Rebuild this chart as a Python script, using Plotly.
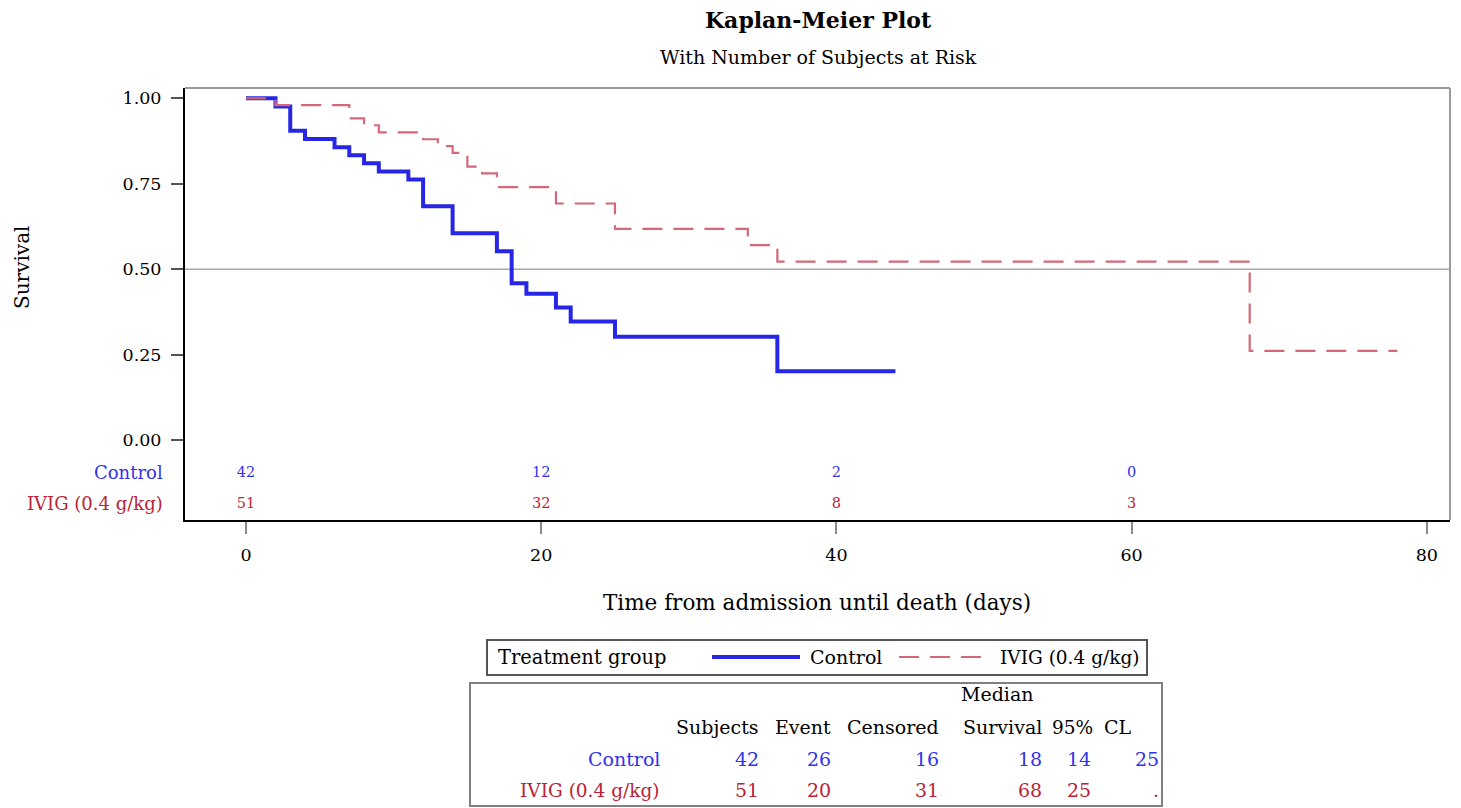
import plotly.graph_objects as go

# ---------------- data ----------------
time_control = [0, 2, 3, 4, 6, 7, 8, 9, 11, 12, 14, 17, 18, 19, 21, 22, 25, 36, 44]
surv_control = [1.0, 0.976, 0.905, 0.881, 0.857, 0.833, 0.810, 0.786, 0.762, 0.684,
                0.605, 0.552, 0.459, 0.428, 0.388, 0.347, 0.302, 0.201, 0.201]
time_ivig = [0, 2, 7, 8, 9, 12, 13, 14, 15, 16, 17, 21, 25, 34, 36, 68, 78]
surv_ivig = [1.0, 0.980, 0.941, 0.921, 0.900, 0.880, 0.860, 0.840, 0.800, 0.780,
             0.740, 0.692, 0.618, 0.570, 0.522, 0.261, 0.261]

risk_times = [0, 20, 40, 60]
risk_control = [42, 12, 2, 0]
risk_ivig = [51, 32, 8, 3]

groups = ["Control", "IVIG (0.4 g/kg)"]
table_headers = ["Subjects", "Event", "Censored", "Survival", "95%", "CL"]
table_control = ["42", "26", "16", "18", "14", "25"]
table_ivig = ["51", "20", "31", "68", "25", "."]

x_ticks = [0, 20, 40, 60, 80]
y_ticks = [0.0, 0.25, 0.50, 0.75, 1.00]
y_tick_text = ["0.00", "0.25", "0.50", "0.75", "1.00"]

# ---------------- style ----------------
FONT = "DejaVu Serif"
BLUE_LINE = "rgb(38,38,228)"
RED_LINE = "rgb(212,104,120)"
BLUE_TXT = "rgb(50,50,235)"
RED_TXT = "rgb(185,35,55)"
DASH = "20px,11px"

W, H = 1461, 808
L, R, T, B = 185, 11, 88, 288
PW, PH = W - L - R, H - T - B


def px(x):
    return (x - L) / PW


def py(y):
    return (H - B - y) / PH


fig = go.Figure()

fig.add_trace(go.Scatter(x=time_control, y=surv_control, mode="lines",
                         line=dict(shape="hv", color=BLUE_LINE, width=4),
                         name=groups[0], showlegend=False))
fig.add_trace(go.Scatter(x=time_ivig, y=surv_ivig, mode="lines",
                         line=dict(shape="hv", color=RED_LINE, width=2.2, dash=DASH),
                         name=groups[1], showlegend=False))

# at-risk rows
ROW_C, ROW_I = -0.097, -0.188
fig.add_trace(go.Scatter(x=risk_times, y=[ROW_C] * len(risk_times), mode="text",
                         text=[str(v) for v in risk_control],
                         textfont=dict(family=FONT, size=14.5, color=BLUE_TXT),
                         showlegend=False, cliponaxis=False, hoverinfo="skip"))
fig.add_trace(go.Scatter(x=risk_times, y=[ROW_I] * len(risk_times), mode="text",
                         text=[str(v) for v in risk_ivig],
                         textfont=dict(family=FONT, size=14.5, color=RED_TXT),
                         showlegend=False, cliponaxis=False, hoverinfo="skip"))

ann = []


def text(x, y, s, size=20, color="black", anchor="center", bold=False, angle=0):
    ann.append(dict(xref="paper", yref="paper", x=px(x), y=py(y), text=("<b>%s</b>" % s) if bold else s,
                    showarrow=False, xanchor=anchor, yanchor="middle", textangle=angle,
                    font=dict(family=FONT, size=size, color=color), borderpad=0))


# titles
text(818, 20, "Kaplan-Meier Plot", size=22, bold=True)
text(818, 57, "With Number of Subjects at Risk", size=19)
text(817, 602, "Time from admission until death (days)", size=21.5)
text(22, 268, "Survival", size=20, angle=-90)

# at-risk labels
text(164, 472, groups[0], size=18, color=BLUE_TXT, anchor="right")
text(164, 503, groups[1], size=18, color=RED_TXT, anchor="right")

shapes = []
# reference line at 0.5
shapes.append(dict(type="line", xref="paper", yref="y", x0=0, x1=1, y0=0.5, y1=0.5,
                   line=dict(color="#a8a8a8", width=1.5), layer="below"))
# top & right frame
shapes.append(dict(type="line", xref="paper", yref="paper", x0=0, x1=1, y0=1, y1=1,
                   line=dict(color="#9a9a9a", width=2)))
shapes.append(dict(type="line", xref="paper", yref="paper", x0=1, x1=1, y0=0, y1=1,
                   line=dict(color="#9a9a9a", width=2)))

# legend box
shapes.append(dict(type="rect", xref="paper", yref="paper", x0=px(487), x1=px(1147), y0=py(640), y1=py(675),
                   line=dict(color="#555555", width=2)))
text(497, 657, "Treatment group", size=19.5, anchor="left")
shapes.append(dict(type="line", xref="paper", yref="paper", x0=px(712), x1=px(800), y0=py(657), y1=py(657),
                   line=dict(color=BLUE_LINE, width=4)))
text(809, 657, groups[0], size=19, anchor="left")
shapes.append(dict(type="line", xref="paper", yref="paper", x0=px(899), x1=px(990), y0=py(657), y1=py(657),
                   line=dict(color=RED_LINE, width=2.2, dash=DASH)))
text(1141, 657, groups[1], size=18.5, anchor="right")

# stats table
shapes.append(dict(type="rect", xref="paper", yref="paper", x0=px(470), x1=px(1162), y0=py(683), y1=py(806),
                   line=dict(color="#808080", width=2)))
col_right = [760, 832, 940, 1043, 1092, 1160]
text(997, 694, "Median", size=19)
for i, h in enumerate(table_headers):
    if h == "CL":
        text(1103, 727, h, size=19, anchor="left")
    elif h == "95%":
        text(1094, 727, h, size=18.5, anchor="right")
    else:
        text(col_right[i], 727, h, size=19, anchor="right")
text(661, 759, groups[0], size=19, color=BLUE_TXT, anchor="right")
text(661, 790, groups[1], size=18.5, color=RED_TXT, anchor="right")
for i in range(len(col_right)):
    text(col_right[i], 759, table_control[i], size=19, color=BLUE_TXT, anchor="right")
    text(col_right[i], 790, table_ivig[i], size=19, color=RED_TXT, anchor="right")

fig.update_layout(
    width=W, height=H,
    margin=dict(l=L, r=R, t=T, b=B, autoexpand=False),
    paper_bgcolor="white", plot_bgcolor="white",
    font=dict(family=FONT, size=17, color="black"),
    showlegend=False,
    annotations=ann,
    shapes=shapes,
    xaxis=dict(range=[-4.13, 81.57], tickvals=x_ticks, ticktext=[str(v) for v in x_ticks],
               showgrid=False, zeroline=False, showline=True, linecolor="black", linewidth=2,
               ticks="outside", ticklen=12, tickwidth=2, tickcolor="#8a8a8a",
               tickfont=dict(family=FONT, size=17.5), ticklabelstandoff=6),
    yaxis=dict(range=[-0.234, 1.03], tickvals=y_ticks, ticktext=y_tick_text,
               showgrid=False, zeroline=False, showline=True, linecolor="black", linewidth=2,
               ticks="outside", ticklen=12, tickwidth=2, tickcolor="#555555",
               tickfont=dict(family=FONT, size=17.5), ticklabelstandoff=6),
)

fig.write_html("out.html", config={"displayModeBar": False},
               post_script="document.body.style.margin='0';")
